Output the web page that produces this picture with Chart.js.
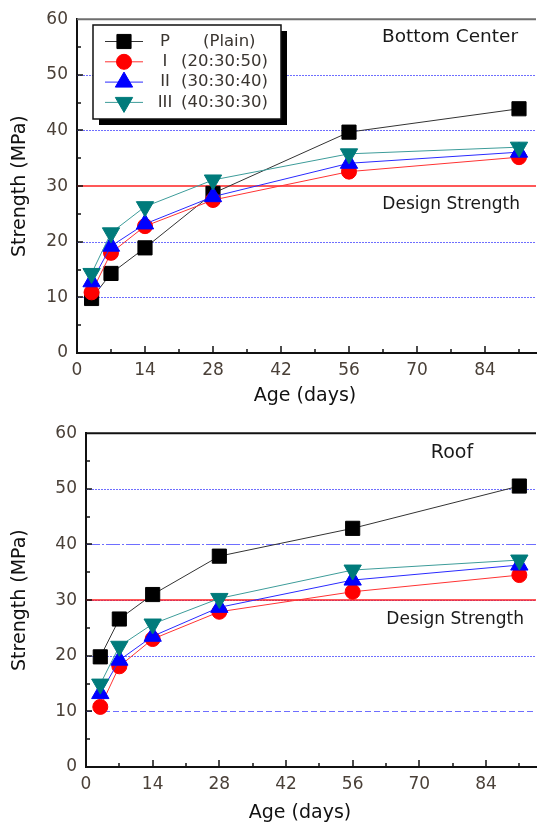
<!DOCTYPE html>
<html>
<head>
<meta charset="utf-8">
<script src="https://cdn.jsdelivr.net/npm/chart.js@4.4.1/dist/chart.umd.min.js"></script>
<style>
  html, body { margin: 0; background: #fff; overflow: hidden; width: 537px; height: 825px; }
  canvas { position: absolute; left: 0; }
</style>
</head>
<body>
<canvas id="bottomChart" width="547" height="412" style="top:0"></canvas>
<canvas id="roofChart" width="547" height="411" style="top:414px"></canvas>
<script>
// curing ages (days)
const ages = [3, 7, 14, 28, 56, 91];
const seriesNames = ['P', 'I', 'II', 'III'];
const mixNotes = ['(Plain)', '(20:30:50)', '(30:30:40)', '(40:30:30)'];

// Bottom Center strength (MPa)
const bottomP   = [9.8, 14.3, 18.9, 28.7, 39.7, 43.9];
const bottomI   = [10.9, 18.0, 22.8, 27.5, 32.6, 35.2];
const bottomII  = [12.8, 19.2, 23.2, 28.1, 34.1, 36.1];
const bottomIII = [14.3, 21.6, 26.3, 31.1, 35.8, 37.0];

// Roof strength (MPa)
const roofP   = [19.8, 26.6, 31.0, 37.9, 42.9, 50.5];
const roofI   = [10.8, 18.1, 23.0, 27.9, 31.5, 34.5];
const roofII  = [13.2, 19.2, 23.5, 28.7, 33.6, 36.3];
const roofIII = [14.9, 21.7, 25.7, 30.3, 35.4, 37.2];

const xTicks = [0, 14, 28, 42, 56, 70, 84];
const yTicks = [0, 10, 20, 30, 40, 50, 60];
const guideLines = [10, 20, 40, 50];
const designStrength = 30;
const xMax = 94.5;

const FONT = '"DejaVu Sans", sans-serif';
const TICK = '#4a4038';

const looks = [
  { color: '#000000', line: '#333333', style: 'rect',     r: 10,  rot: 0 },
  { color: '#ff0000', line: '#ff3333', style: 'circle',   r: 7.5, rot: 0 },
  { color: '#0000ff', line: '#2a2aff', style: 'triangle', r: 10,  rot: 0 },
  { color: '#007b7b', line: '#3d9c9a', style: 'triangle', r: 10,  rot: 180 }
];

function drawLegend(ctx) {
  const bx = 93, by = 25, bw = 188, bh = 94;
  ctx.fillStyle = '#000';
  ctx.fillRect(bx + 6, by + 6, bw, bh);
  ctx.fillStyle = '#fff';
  ctx.fillRect(bx, by, bw, bh);
  ctx.lineWidth = 1.5;
  ctx.strokeStyle = '#111';
  ctx.strokeRect(bx, by, bw, bh);

  seriesNames.forEach((name, i) => {
    const ry = 41.5 + i * 20.3;
    const lk = looks[i];
    ctx.setLineDash([]);
    ctx.strokeStyle = lk.line;
    ctx.lineWidth = 1;
    ctx.beginPath();
    ctx.moveTo(105, ry);
    ctx.lineTo(143, ry);
    ctx.stroke();
    ctx.fillStyle = lk.color;
    ctx.strokeStyle = lk.color;
    Chart.helpers.drawPoint(ctx, { pointStyle: lk.style, radius: lk.r, rotation: lk.rot, borderWidth: 1 }, 124, ry);

    ctx.fillStyle = '#3a3530';
    ctx.font = '16.5px ' + FONT;
    ctx.textBaseline = 'middle';
    ctx.textAlign = 'center';
    ctx.fillText(name, 165, ry);
    ctx.textAlign = 'left';
    ctx.fillText(mixNotes[i], i === 0 ? 203 : 181, ry);
  });
}

const decor = {
  id: 'decor',
  beforeDatasetsDraw(chart, args, o) {
    const { ctx, chartArea: a, scales: { x, y } } = chart;
    ctx.save();
    // blue dotted guides
    ctx.lineWidth = 1;
    ctx.strokeStyle = '#6e6eff';
    const guides = o.blueAt30 ? guideLines.concat([designStrength]) : guideLines;
    guides.forEach((v, i) => {
      const py = Math.round(y.getPixelForValue(v)) + 0.5;
      ctx.setLineDash(o.dashes[i] || [2, 1]);
      ctx.beginPath();
      ctx.moveTo(a.left, py);
      ctx.lineTo(a.right, py);
      ctx.stroke();
    });
    // design strength line
    ctx.setLineDash([]);
    ctx.strokeStyle = '#ff2020';
    ctx.lineWidth = 1.5;
    const dy = y.getPixelForValue(designStrength);
    ctx.beginPath();
    ctx.moveTo(a.left, dy);
    ctx.lineTo(a.right, dy);
    ctx.stroke();
    // top frame
    ctx.strokeStyle = o.frame;
    ctx.lineWidth = 2;
    ctx.beginPath();
    ctx.moveTo(a.left, a.top);
    ctx.lineTo(a.right, a.top);
    ctx.stroke();
    // inward tick marks
    ctx.strokeStyle = '#111';
    ctx.lineWidth = 1.5;
    const xs = xTicks.map(v => [v, 7]).concat(xTicks.map(v => [v + 7, 4]));
    xs.forEach(([v, len]) => {
      if (v <= 0 || v > xMax) return;
      const px = Math.round(x.getPixelForValue(v));
      ctx.beginPath();
      ctx.moveTo(px, a.bottom);
      ctx.lineTo(px, a.bottom - len);
      ctx.stroke();
    });
    const ys = yTicks.map(v => [v, 6]).concat(yTicks.slice(0, -1).map(v => [v + 5, 4]));
    ys.forEach(([v, len]) => {
      if (v <= 0 || v >= 60) return;
      const py = Math.round(y.getPixelForValue(v));
      ctx.beginPath();
      ctx.moveTo(a.left, py);
      ctx.lineTo(a.left + len, py);
      ctx.stroke();
    });
    ctx.restore();
  },
  afterDraw(chart, args, o) {
    const ctx = chart.ctx;
    ctx.save();
    ctx.fillStyle = '#1a1a1a';
    ctx.textBaseline = 'middle';
    ctx.font = o.placeFont + 'px ' + FONT;
    ctx.textAlign = o.placeAlign;
    ctx.fillText(o.place, o.placeX, o.placeY);
    ctx.font = '17px ' + FONT;
    ctx.textAlign = 'right';
    ctx.fillText('Design Strength', o.designX, o.designY);
    ctx.fillStyle = '#111';
    ctx.font = '19px ' + FONT;
    ctx.textAlign = 'center';
    ctx.fillText('Age (days)', o.titleX, o.titleY);
    if (o.legend) drawLegend(ctx);
    ctx.restore();
  }
};

function build(id, vals, o) {
  const datasets = vals.map((v, i) => ({
    label: seriesNames[i],
    data: ages.map((d, k) => ({ x: d, y: v[k] })),
    borderColor: looks[i].line,
    borderWidth: 1,
    pointStyle: looks[i].style,
    pointRadius: looks[i].r,
    pointRotation: looks[i].rot,
    pointBackgroundColor: looks[i].color,
    pointBorderColor: looks[i].color,
    pointBorderWidth: 1,
    order: 3 - i,
    tension: 0
  }));
  return new Chart(document.getElementById(id), {
    type: 'line',
    data: { datasets },
    options: {
      responsive: false,
      animation: false,
      layout: { padding: { top: o.top, right: 0, left: 0, bottom: 0 } },
      plugins: { legend: { display: false }, tooltip: { enabled: false }, decor: o },
      scales: {
        x: {
          type: 'linear', min: 0, max: xMax,
          afterBuildTicks: s => { s.ticks = xTicks.map(v => ({ value: v })); },
          ticks: { font: { family: FONT, size: 17 }, color: TICK, padding: 7, maxRotation: 0, autoSkip: false },
          grid: { display: false, drawTicks: false },
          border: { color: '#111', width: 2 },
          afterFit: s => { s.height = o.xH; }
        },
        y: {
          type: 'linear', min: 0, max: 60,
          afterBuildTicks: s => { s.ticks = yTicks.map(v => ({ value: v })); },
          ticks: { font: { family: FONT, size: 17 }, color: TICK, padding: 9 },
          grid: { display: false, drawTicks: false },
          border: { color: '#111', width: 2 },
          title: { display: true, text: 'Strength (MPa)', font: { family: FONT, size: 19 }, color: '#111', padding: { top: 9, bottom: 0 } },
          afterFit: s => { s.width = o.yW; }
        }
      }
    },
    plugins: [decor]
  });
}

build('bottomChart', [bottomP, bottomI, bottomII, bottomIII], {
  top: 16, xH: 59, yW: 77, frame: '#6e6e6e', legend: true, blueAt30: false,
  dashes: [[2, 1], [2, 1], [2, 1], [2, 1]],
  place: 'Bottom Center', placeFont: 18.5, placeAlign: 'right', placeX: 518, placeY: 37,
  designX: 520, designY: 205, titleX: 305, titleY: 396
});

build('roofChart', [roofP, roofI, roofII, roofIII], {
  top: 19, xH: 58, yW: 86, frame: '#111', legend: false, blueAt30: true,
  dashes: [[6, 3], [2, 1], [14, 2, 2, 2], [2, 1], [2, 1]],
  place: 'Roof', placeFont: 19, placeAlign: 'center', placeX: 452, placeY: 39,
  designX: 524, designY: 206, titleX: 300, titleY: 399
});
</script>
</body>
</html>
